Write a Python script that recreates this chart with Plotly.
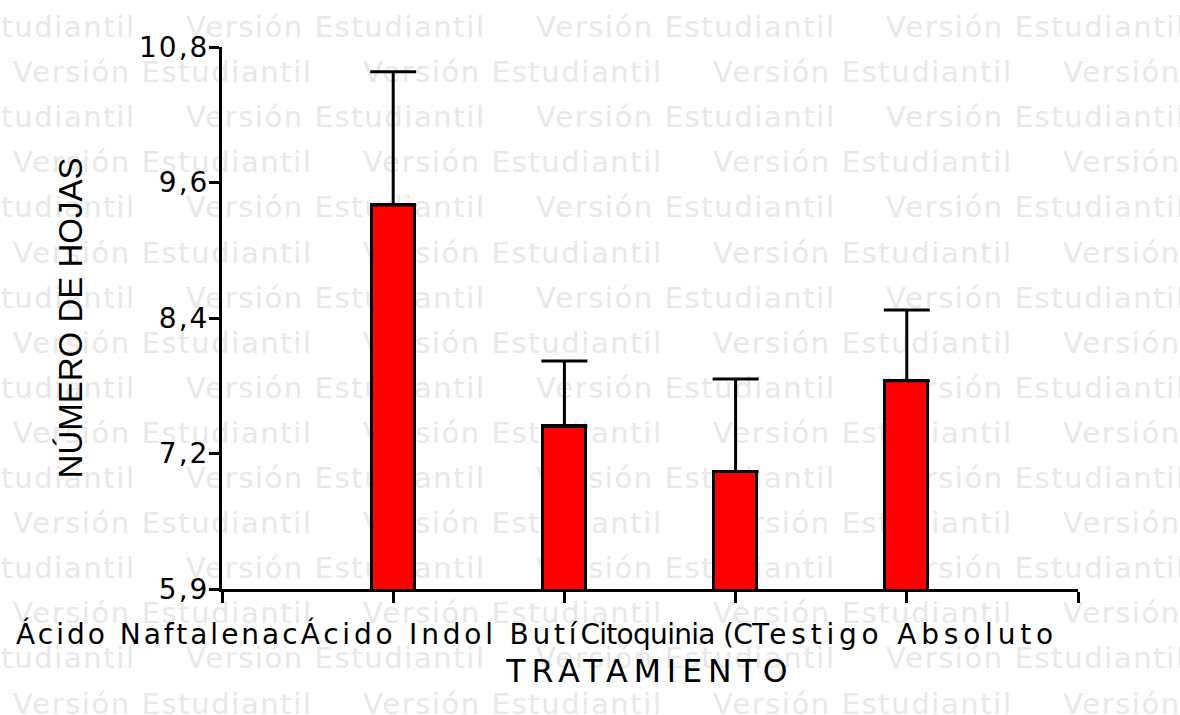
import plotly.graph_objects as go

# ---- data ----
categories = ["Ácido Naftalenac", "Ácido Indol Butí", "Citoquinia (C", "Testigo Absoluto"]
bar_pos = [1, 2, 3, 4]
values = [9.40, 7.44, 7.04, 7.845]
errors = [1.18, 0.58, 0.82, 0.625]
y_tickvals = [6.0, 7.2, 8.4, 9.6, 10.8]
y_ticktext = ["5,9", "7,2", "8,4", "9,6", "10,8"]
watermark = "Versión Estudiantil"

# ---- style ----
WIDE = "DejaVu Sans, Verdana, sans-serif"
ARIAL = "Liberation Sans, Arial, sans-serif"
label_spacing = [3.0, 3.8, -0.7, 4.8]   # px letter-spacing per category label
W, H = 1180, 715
L, R, T, B = 222, 102, 47, 126
PW, PH = W - L - R, H - T - B


def ls(text, px):
    return f'<span style="letter-spacing:{px}px">{text}</span>'


xlabel = "".join(ls(c, s) for c, s in zip(categories, label_spacing))

fig = go.Figure()
fig.add_trace(go.Bar(
    x=bar_pos, y=values, width=0.25,
    marker=dict(color="#ff0000", line=dict(color="black", width=3)),
    error_y=dict(type="data", array=errors, arrayminus=[0] * len(errors),
                 symmetric=False, color="black", thickness=3, width=23),
    hoverinfo="skip", showlegend=False,
))

# watermark rows (drawn beneath the bars)
shapes = []
row_gap = 45.1
period = 350
for k in range(16):
    base = 35 + row_gap * k
    start = -167 if k % 2 == 0 else 10
    xs = start
    while xs < W:
        px0 = (xs - L) / PW
        cy = (T + PH - (base - 10)) / PH
        shapes.append(dict(
            type="rect", xref="paper", yref="paper", layer="below",
            x0=px0, x1=px0 + 0.001, y0=cy - 0.001, y1=cy + 0.001,
            line=dict(width=0), fillcolor="rgba(0,0,0,0)",
            label=dict(text=ls(watermark, 1.6), textposition="middle left", padding=0,
                       font=dict(family=WIDE, size=29, color="#e8e8e8")),
        ))
        xs += period

fig.update_layout(
    template="none",
    width=W, height=H,
    margin=dict(l=L, r=R, t=T, b=B, pad=0, autoexpand=False),
    paper_bgcolor="white", plot_bgcolor="rgba(0,0,0,0)",
    font=dict(family=WIDE, color="black"),
    shapes=shapes,
    bargap=0,
)
fig.update_xaxes(
    automargin=False,
    range=[0, 5], showgrid=False, zeroline=False,
    showline=True, linecolor="black", linewidth=3,
    tickmode="array", tickvals=[1.84], ticktext=[xlabel], ticks="",
    tickfont=dict(size=28, family=WIDE, color="black"), ticklabelstandoff=18,
    minor=dict(tickmode="array", tickvals=[0, 1, 2, 3, 4, 5], ticks="outside",
               ticklen=11, tickwidth=3, tickcolor="black", showgrid=False),
    title=dict(text=ls("TRATAMIENTO", 6.0), font=dict(size=31.5, family=WIDE, color="black"),
               standoff=11),
)
fig.update_yaxes(
    automargin=False,
    range=[6.0, 10.8], showgrid=False, zeroline=False,
    showline=True, linecolor="black", linewidth=3,
    tickmode="array", tickvals=y_tickvals, ticktext=[ls(t, 2) for t in y_ticktext],
    ticks="outside", ticklen=10, tickwidth=3, tickcolor="black", ticklabelstandoff=-6,
    tickfont=dict(size=28, family=WIDE, color="black"),
    title=dict(text="NÚMERO DE HOJAS", font=dict(size=33, family=ARIAL, color="black"),
               standoff=47),
)

fig.write_html("out.html", config={"displayModeBar": False},
               post_script="document.body.style.margin='0';")
